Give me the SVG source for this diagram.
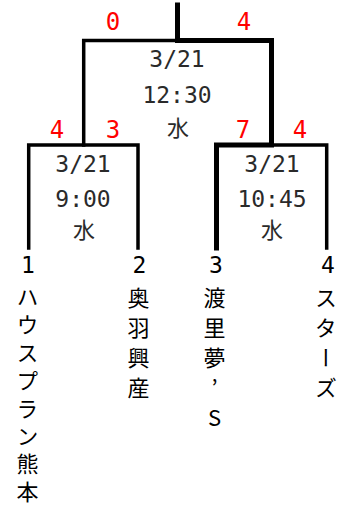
<svg xmlns="http://www.w3.org/2000/svg" width="355" height="510" viewBox="0 0 355 510">
<style>
.thin{fill:none;stroke:#000;stroke-width:3.5;stroke-linecap:square}
.thick{fill:none;stroke:#000;stroke-width:5;stroke-linecap:square}
.info{font-family:"DejaVu Sans Mono",monospace;font-size:23px;fill:#2a2a2a;text-anchor:middle}
.cj{font-family:"Noto Sans CJK JP",sans-serif;font-size:22px;fill:#2a2a2a;text-anchor:middle}
.score{font-family:"DejaVu Sans Mono",monospace;font-size:24px;fill:#f00;text-anchor:middle}
.num{font-family:"DejaVu Sans Mono",monospace;font-size:23px;fill:#000;text-anchor:middle}
.name{font-family:"Noto Sans CJK JP",sans-serif;font-size:22px;fill:#000;writing-mode:vertical-rl;text-orientation:upright;letter-spacing:8px}
</style>
<g id="connectors">
<path class="thin" d="M83.7 145 V40.5 H271.5"/>
<path class="thin" d="M28.7 248 V145 H138 V248"/>
<path class="thin" d="M216.5 248 V145 H326.7 V248"/>
<path class="thick" d="M177.5 5 V40.5 H271.5 V145 H216.5 V248"/>
</g>
<g id="scores">
<text class="score" x="113" y="30">0</text>
<text class="score" x="244" y="30">4</text>
<text class="score" x="57" y="138">4</text>
<text class="score" x="113" y="138">3</text>
<text class="score" x="243" y="138">7</text>
<text class="score" x="300" y="138">4</text>
</g>
<g id="match-final">
<text class="info" x="177" y="67">3/21</text>
<text class="info" x="177" y="103">12:30</text>
<text class="cj" x="178" y="136">水</text>
</g>
<g id="match-semi1">
<text class="info" x="83" y="172">3/21</text>
<text class="info" x="83" y="207">9:00</text>
<text class="cj" x="84" y="238">水</text>
</g>
<g id="match-semi2">
<text class="info" x="272" y="172">3/21</text>
<text class="info" x="272" y="207">10:45</text>
<text class="cj" x="272" y="238">水</text>
</g>
<g id="team1">
<text class="num" x="28" y="273">1</text>
<text class="name" x="27.5" y="286" style="letter-spacing:5.8px">ハウスプラン熊本</text>
</g>
<g id="team2">
<text class="num" x="139.5" y="273">2</text>
<text class="name" x="138.5" y="287">奥羽興産</text>
</g>
<g id="team3">
<text class="num" x="216" y="273">3</text>
<text class="name" x="214.5" y="287">渡里夢’S</text>
</g>
<g id="team4">
<text class="num" x="328" y="273">4</text>
<text class="name" x="326" y="287">スターズ</text>
</g>
</svg>
